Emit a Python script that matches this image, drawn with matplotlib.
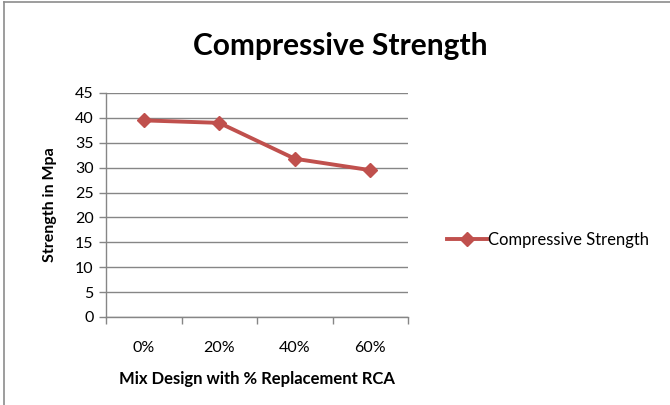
import matplotlib
matplotlib.use("Agg")
import matplotlib.pyplot as plt
from matplotlib.lines import Line2D

categories = ["0%", "20%", "40%", "60%"]
strength = [39.5, 39.0, 31.8, 29.5]
y_ticks = [0, 5, 10, 15, 20, 25, 30, 35, 40, 45]

W, H = 670, 405
fig = plt.figure(figsize=(W / 100, H / 100), dpi=100)
plt.rcParams["font.family"] = ["Lato", "DejaVu Sans"]

# chart-area border (left and top edges visible)
fig.add_artist(Line2D([3.5 / W, 3.5 / W], [0, 1 - 1.5 / H], transform=fig.transFigure,
                      color="#8c8c8c", lw=1.2))
fig.add_artist(Line2D([3.5 / W, 1], [1 - 1.5 / H, 1 - 1.5 / H], transform=fig.transFigure,
                      color="#8c8c8c", lw=1.2))

left, right, bottom, top = 106 / W, 408 / W, 1 - 317 / H, 1 - 93 / H
ax = fig.add_axes([left, bottom, right - left, top - bottom])

x = list(range(len(categories)))
ax.plot(x, strength, color="#C0504D", lw=2.8, marker="D", markersize=7,
        label="Compressive Strength", solid_joinstyle="round")

ax.set_xlim(-0.5, len(categories) - 0.5)
ax.set_ylim(0, 45)
ax.set_yticks(y_ticks)
ax.set_yticklabels([str(v) for v in y_ticks], fontsize=11.5)
ax.set_xticks([i - 0.5 for i in range(len(categories) + 1)])
ax.set_xticklabels([])
ax.set_xticks(x, minor=True)
ax.set_xticklabels(categories, minor=True, fontsize=11.5)
ax.tick_params(axis="x", which="minor", length=0, pad=17)
ax.tick_params(axis="x", which="major", length=5, color="#868686", width=1)
ax.tick_params(axis="y", length=5, color="#868686", width=1, pad=4)

ax.grid(axis="y", color="#868686", lw=1)
ax.set_axisbelow(True)
for side in ["top", "right"]:
    ax.spines[side].set_visible(False)
for side in ["left", "bottom"]:
    ax.spines[side].set_color("#868686")
    ax.spines[side].set_linewidth(1)

ax.set_ylabel("Strength in Mpa", fontsize=11.5, fontweight="bold", labelpad=13)
ax.set_xlabel("Mix Design with % Replacement RCA", fontsize=12, fontweight="bold", labelpad=12)

fig.text(340 / W, 1 - 46 / H, "Compressive Strength", fontsize=21.5, fontweight="bold",
         ha="center", va="center")

ax.legend(loc="center left", bbox_to_anchor=(440 / W, 1 - 240 / H),
          bbox_transform=fig.transFigure, frameon=False, fontsize=12,
          handlelength=2.4, handletextpad=0.1, borderaxespad=0)

fig.savefig("out.png", dpi=100)
